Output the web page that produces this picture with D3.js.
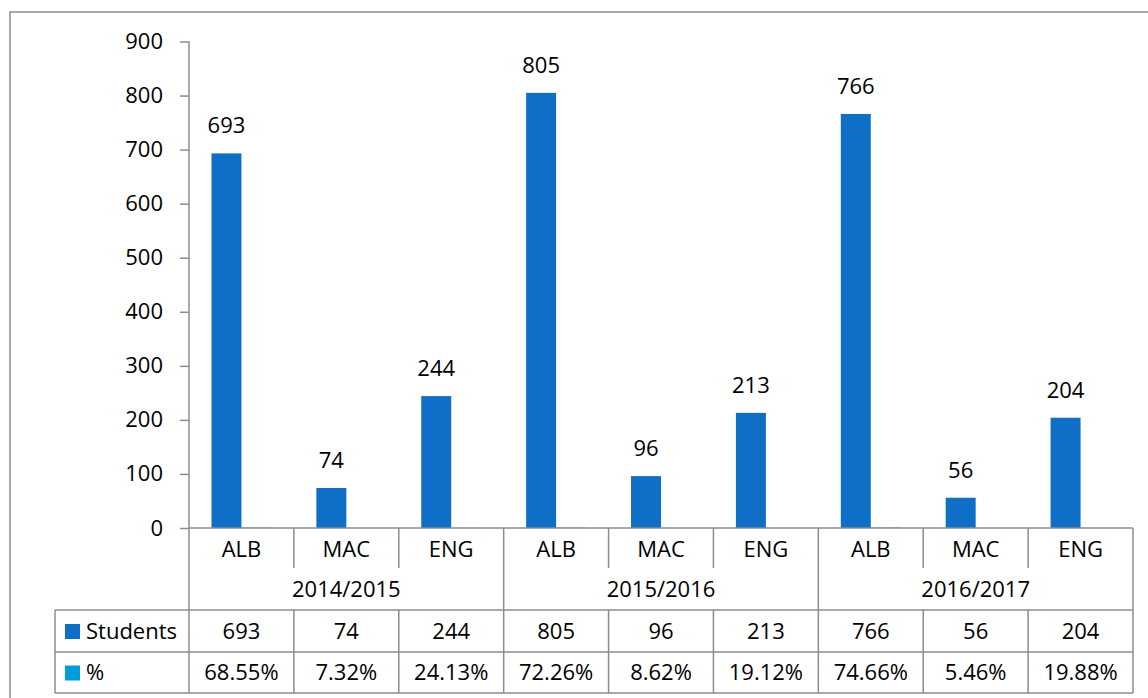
<!DOCTYPE html>
<html>
<head>
<meta charset="utf-8">
<script src="https://cdn.jsdelivr.net/npm/d3@7"></script>
<style>
  body { margin: 0; background: #fff; }
  svg text { font-family: "Open Sans", sans-serif; fill: #000; }
</style>
</head>
<body>
<div id="chart"></div>
<script>
const years = ["2014/2015", "2015/2016", "2016/2017"];
const languages = ["ALB", "MAC", "ENG"];
const students = [693, 74, 244, 805, 96, 213, 766, 56, 204];
const percents = [68.55, 7.32, 24.13, 72.26, 8.62, 19.12, 74.66, 5.46, 19.88];
const yTicks = [0, 100, 200, 300, 400, 500, 600, 700, 800, 900];
const seriesNames = ["Students", "%"];
const seriesColors = ["#0F6FC6", "#009DD9"];

const W = 1148, H = 698;
const plot = { left: 189, right: 1133, top: 41.5, bottom: 528 };
const rows = { cat: 568, group: 610, students: 652, pct: 693 };
const tableLeft = 55;
const lineColor = "#8c8c8c";
const fontSize = 22;

const cats = [];
years.forEach((y, gi) => languages.forEach((l, li) => {
    const i = gi * languages.length + li;
    cats.push({ key: y + "|" + l, year: y, lang: l, values: [students[i], percents[i] / 100], pct: percents[i] });
}));

const svg = d3.select("#chart").append("svg")
    .attr("width", W)
    .attr("height", H);

// outer chart border
svg.append("rect")
    .attr("x", 10).attr("y", 12)
    .attr("width", W + 20).attr("height", H + 20)
    .attr("fill", "#fff")
    .attr("stroke", lineColor)
    .attr("stroke-width", 1.5);

const x = d3.scaleBand()
    .domain(cats.map(d => d.key))
    .range([plot.left, plot.right])
    .padding(0);

const xs = d3.scaleBand()
    .domain(seriesNames)
    .range([0, x.bandwidth()])
    .paddingInner(0)
    .paddingOuter(0.75);

const y = d3.scaleLinear()
    .domain([0, 900])
    .range([plot.bottom, plot.top]);

// y axis
const yAxis = svg.append("g")
    .attr("transform", `translate(${plot.left},0)`)
    .call(d3.axisLeft(y).tickValues(yTicks).tickSize(9).tickPadding(17));
yAxis.select(".domain").remove();
yAxis.selectAll("line").attr("stroke", lineColor).attr("stroke-width", 1.5);
yAxis.selectAll("text")
    .style("font-size", fontSize + "px")
    .style("font-family", "'Open Sans', sans-serif")
    .attr("fill", "#000");

// bars
const groups = svg.selectAll(".cat")
    .data(cats)
    .enter().append("g")
    .attr("class", "cat")
    .attr("transform", d => `translate(${x(d.key)},0)`);

groups.selectAll("rect")
    .data(d => d.values.map((v, i) => ({ s: seriesNames[i], v: v, c: seriesColors[i] })))
    .enter().append("rect")
    .attr("x", d => xs(d.s))
    .attr("width", xs.bandwidth())
    .attr("y", d => y(d.v))
    .attr("height", d => y(0) - y(d.v))
    .attr("fill", d => d.c);

// data labels for Students
groups.append("text")
    .attr("x", xs("Students") + xs.bandwidth() / 2)
    .attr("y", d => y(d.values[0]) - 20)
    .attr("text-anchor", "middle")
    .style("font-size", fontSize + "px")
    .text(d => d.values[0]);

// data table lines
const lines = svg.append("g")
    .attr("stroke", lineColor)
    .attr("stroke-width", 1.5)
    .attr("fill", "none");

function hline(x1, x2, yy) { lines.append("line").attr("x1", x1).attr("x2", x2).attr("y1", yy).attr("y2", yy); }
function vline(xx, y1, y2) { lines.append("line").attr("x1", xx).attr("x2", xx).attr("y1", y1).attr("y2", y2); }

hline(plot.left, plot.right, plot.bottom);
hline(tableLeft, plot.right, rows.group);
hline(tableLeft, plot.right, rows.students);
hline(tableLeft, plot.right, rows.pct);
vline(plot.left, plot.top, rows.pct);
vline(tableLeft, rows.group, rows.pct);
vline(plot.right, plot.bottom, rows.pct);

cats.forEach((d, i) => {
    if (i === 0) return;
    const xx = x(d.key);
    if (i % languages.length === 0) {
        vline(xx, plot.bottom, rows.pct);
    } else {
        vline(xx, plot.bottom, rows.cat);
        vline(xx, rows.group, rows.pct);
    }
});

// table texts
const cx = d => x(d.key) + x.bandwidth() / 2;
function rowText(yc, fn) {
    svg.append("g").selectAll("text")
        .data(cats)
        .enter().append("text")
        .attr("x", cx)
        .attr("y", yc)
        .attr("dy", "0.35em")
        .attr("text-anchor", "middle")
        .style("font-size", fontSize + "px")
        .text(fn);
}
rowText((plot.bottom + rows.cat) / 2 + 1, d => d.lang);
rowText((rows.group + rows.students) / 2, d => d.values[0]);
rowText((rows.students + rows.pct) / 2, d => d.pct.toFixed(2) + "%");

const groupW = x.bandwidth() * languages.length;
svg.append("g").selectAll("text")
    .data(years)
    .enter().append("text")
    .attr("x", (d, i) => plot.left + groupW * i + groupW / 2)
    .attr("y", (rows.cat + rows.group) / 2)
    .attr("dy", "0.35em")
    .attr("text-anchor", "middle")
    .style("font-size", fontSize + "px")
    .text(d => d);

// legend keys in table
const legendRows = [(rows.group + rows.students) / 2, (rows.students + rows.pct) / 2];
seriesNames.forEach((s, i) => {
    svg.append("rect")
        .attr("x", 65).attr("y", legendRows[i] - 7)
        .attr("width", 15).attr("height", 15)
        .attr("fill", seriesColors[i]);
    svg.append("text")
        .attr("x", 86).attr("y", legendRows[i])
        .attr("dy", "0.35em")
        .style("font-size", fontSize + "px")
        .text(s);
});
</script>
</body>
</html>
